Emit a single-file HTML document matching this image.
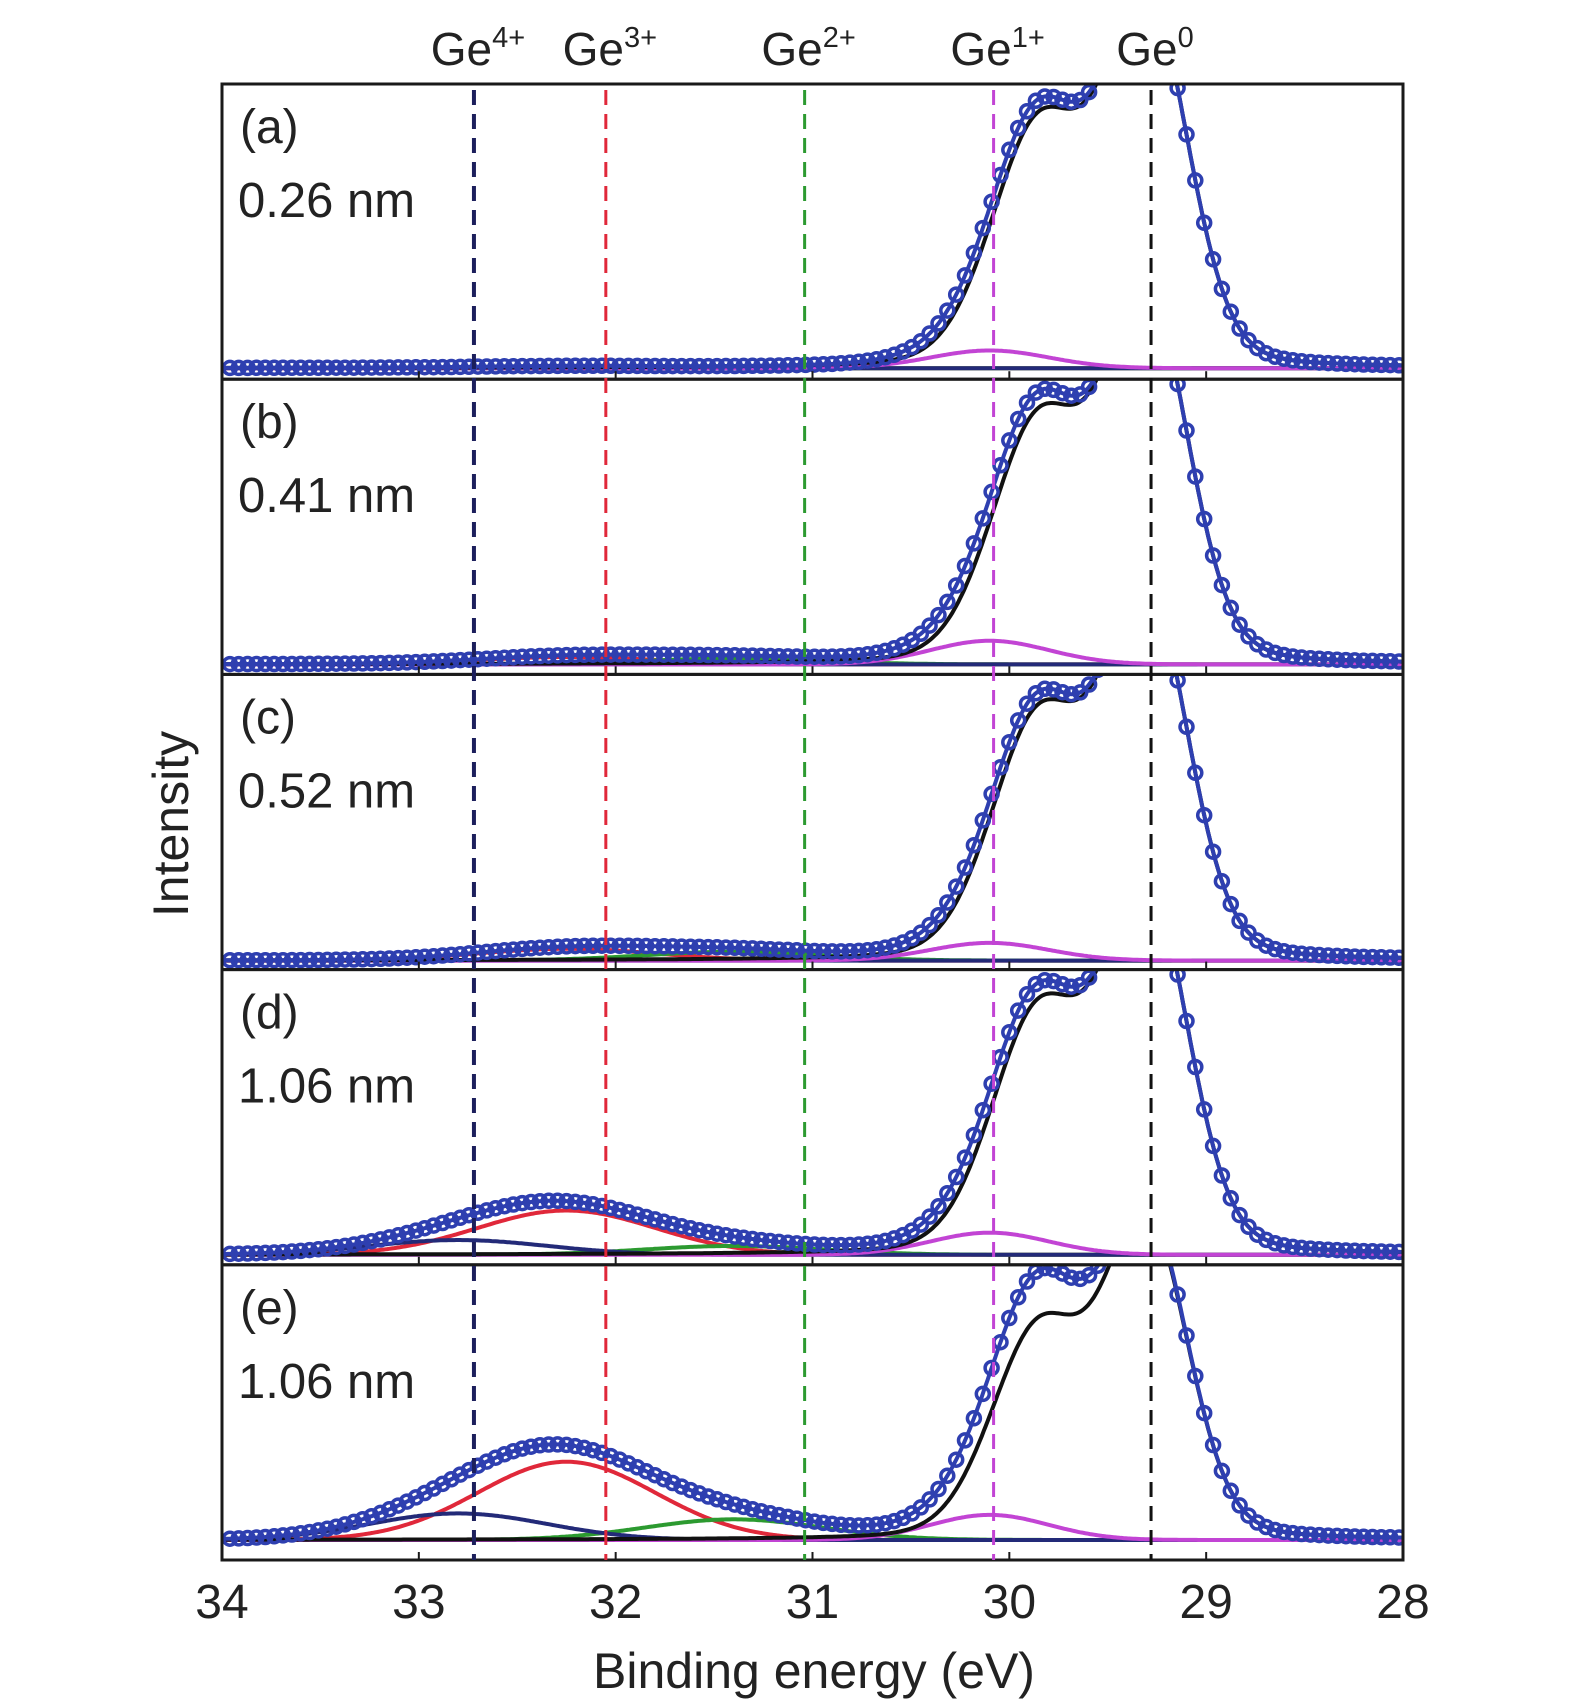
<!DOCTYPE html>
<html><head><meta charset="utf-8">
<style>
html,body{margin:0;padding:0;background:#fff;}
svg{display:block;font-family:"Liberation Sans",sans-serif;}
</style></head>
<body>
<svg id="chart" width="1575" height="1699" viewBox="0 0 1575 1699" xmlns="http://www.w3.org/2000/svg">
<g id="panels"></g>
<g id="overlay"></g>
</svg>
<script>
// ---- data ----
const panelLabels = ["(a)","(b)","(c)","(d)","(e)"];
const thickness = ["0.26 nm","0.41 nm","0.52 nm","1.06 nm","1.06 nm"];
const xTicks = [34,33,32,31,30,29,28];
const refNames = ["4+","3+","2+","1+","0"];
const refEnergies = [32.72,32.05,31.04,30.08,29.28];
const refColors = ["#1c1f5c","#e0283a","#2c9a30","#c244d4","#111111"];
// component amplitudes (fraction of panel height)
const ge0Amp = [1.22,1.22,1.22,1.22,1.06];
const ge1Amp = [0.06,0.08,0.06,0.075,0.085];
const ge2Amp = [0.0,0.02,0.03,0.03,0.07];
const ge3Amp = [0.005,0.025,0.04,0.15,0.265];
const ge4Amp = [0.0,0.0,0.0,0.05,0.09];
const extraData = [0.0,0.0,0.0,0.0,0.1];  // data above fit at shoulder (panel e)
const baseOffset = [11,10,9,10,20];
// component centers / widths (eV)
const ge0Centers = [29.30,29.85];
const ge0Sigmas = [0.21,0.24];
const ge0Ratio = 0.66;
const compCenters = [30.10,31.40,32.25,32.80];
const compSigmas = [0.30,0.45,0.45,0.45];

// ---- layout ----
const X0=222, X1=1403, TOP=84, BOT=1560, NP=5, PH=(BOT-TOP)/NP;
const xs = e => X0 + (34-e)/(34-28)*(X1-X0);
const ns="http://www.w3.org/2000/svg";
function mk(tag, attrs, parent){const el=document.createElementNS(ns,tag);for(const k in attrs)el.setAttribute(k,attrs[k]);parent.appendChild(el);return el;}
const g=(e,c,s)=>Math.exp(-((e-c)*(e-c))/(2*s*s));
const voigt=(e,c,s)=>0.85*g(e,c,s)+0.15/(1+((e-c)/(1.2*s))**2);
const panelsG=document.getElementById('panels'), over=document.getElementById('overlay');
const defs=mk('defs',{},panelsG);

for(let p=0;p<NP;p++){
  const top=TOP+p*PH, bot=top+PH;
  const ys = v => bot - baseOffset[p] - v*PH;
  const cp=mk('clipPath',{id:'clip'+p},defs);
  mk('rect',{x:X0,y:top,width:X1-X0,height:PH},cp);
  const pg=mk('g',{'clip-path':'url(#clip'+p+')'},panelsG);
  
  
  const comps=[
    {name:'ge3-component',color:'#e0283a',f:e=>ge3Amp[p]*g(e,compCenters[2],compSigmas[2])},
    {name:'ge2-component',color:'#2c9a30',f:e=>ge2Amp[p]*g(e,compCenters[1],compSigmas[1])},
    {name:'ge4-component',color:'#232a78',f:e=>ge4Amp[p]*g(e,compCenters[3],compSigmas[3])},
    {name:'ge1-component',color:'#c244d4',f:e=>ge1Amp[p]*g(e,compCenters[0],compSigmas[0])},
    {name:'ge0-component',color:'#111111',f:e=>ge0Amp[p]*(voigt(e,ge0Centers[0],ge0Sigmas[0])+ge0Ratio*voigt(e,ge0Centers[1],ge0Sigmas[1]))},
  ];
  const total=e=>comps.reduce((s,c)=>s+c.f(e),0);
  const line=(f)=>{let d='';for(let e=34;e>=27.99;e-=0.01){d+=(d?'L':'M')+xs(e).toFixed(1)+','+ys(f(e)).toFixed(1);}return d;};
  comps.forEach(c=>{
    const el=mk('path',{d:line(c.f),fill:'none',stroke:c.color,'stroke-width':4},pg);
    
    
  });
  const dataF=e=>total(e)+extraData[p]*g(e,29.8,0.28);
  const tl=mk('path',{d:line(dataF),fill:'none',stroke:'#2e3fb0','stroke-width':4},pg);
  
  
  const dg=mk('g',{fill:'none',stroke:'#2e3fb0','stroke-width':3.5},pg);
  
  
  for(let e=33.96;e>=28.0;e-=0.045){
    mk('circle',{cx:xs(e).toFixed(1),cy:ys(dataF(e)).toFixed(1),r:6.5},dg);
  }
  const fr=mk('rect',{x:X0,y:top,width:X1-X0,height:PH,fill:'none',stroke:'#1a1a1a','stroke-width':3},over);
  
  
  xTicks.forEach(t=>{
    mk('line',{x1:xs(t),x2:xs(t),y1:bot,y2:bot-8,stroke:'#1a1a1a','stroke-width':2},over);
  });
  const lt=mk('text',{x:240,y:top+59,'font-size':48,fill:'#222'},over);
  lt.textContent=panelLabels[p];
  
  
  const tt=mk('text',{x:238,y:top+133,'font-size':49,fill:'#222'},over);
  tt.textContent=thickness[p];
  
  
}
refEnergies.forEach((e,i)=>{
  const l=mk('line',{x1:xs(e),x2:xs(e),y1:TOP+6,y2:BOT,stroke:refColors[i],'stroke-width':i===0?4:3,'stroke-dasharray':'15,9'},over);
  
  
  const t=mk('text',{x:xs(e)+4,y:65,'font-size':46,fill:'#222','text-anchor':'middle'},over);
  
  
  const a=mk('tspan',{},t);a.textContent='Ge';
  const b=mk('tspan',{'font-size':29,dy:-18},t);b.textContent=refNames[i];
});
xTicks.forEach(t=>{
  const tx=mk('text',{x:xs(t),y:1618,'font-size':48,fill:'#222','text-anchor':'middle'},over);
  tx.textContent=t;
  
  
});
const xl=mk('text',{x:814,y:1688,'font-size':50,fill:'#222','text-anchor':'middle'},over);
xl.textContent='Binding energy (eV)';


const yl=mk('text',{x:0,y:0,'font-size':50,fill:'#222','text-anchor':'middle',transform:'translate(188,824) rotate(-90)'},over);
yl.textContent='Intensity';


</script>
</body></html>
